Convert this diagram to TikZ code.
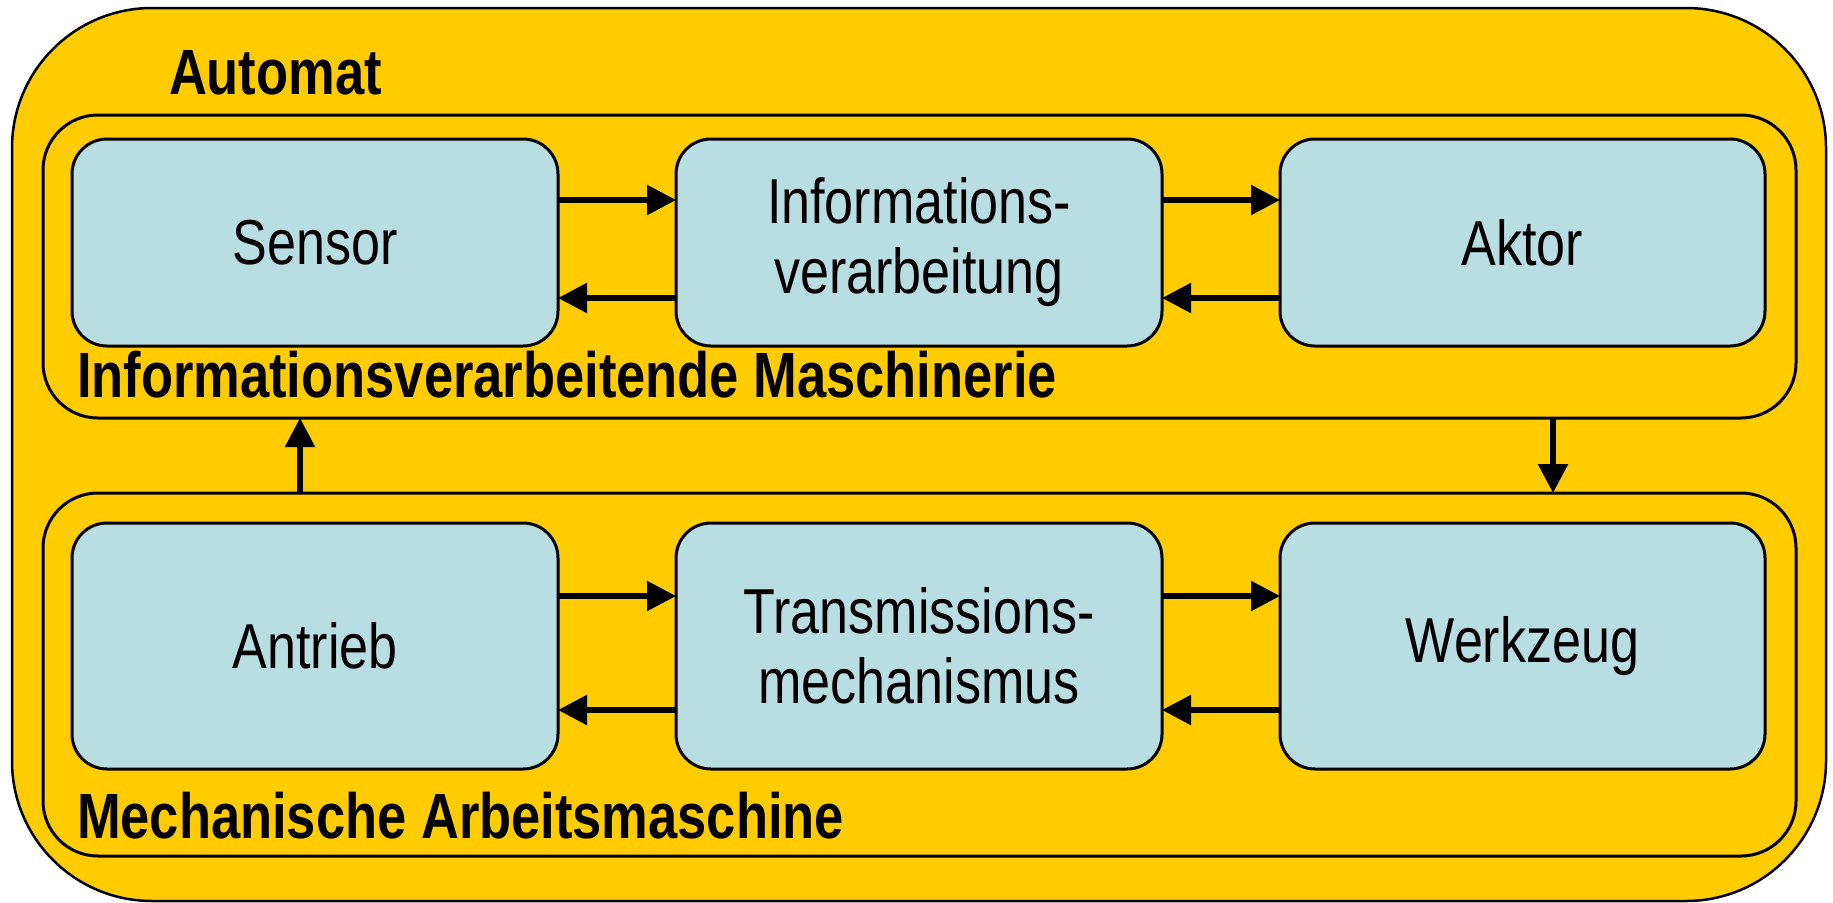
\documentclass[tikz,border=0pt]{standalone}
\usepackage{fontspec}
\setmainfont{Liberation Sans}[FakeStretch=0.82]
\usetikzlibrary{arrows.meta}
\definecolor{automatyellow}{HTML}{FFCC00}
\definecolor{unitblue}{HTML}{B8DEE2}
\begin{document}
\begin{tikzpicture}[x=1pt,y=-1pt,
  every node/.style={inner sep=0pt,outer sep=0pt},
  txt/.style={font=\fontsize{63.5}{70}\selectfont},
  frame/.style={draw=black,line width=2.5pt,rounded corners=140pt,fill=automatyellow},
  group/.style={draw=black,line width=3pt,rounded corners=55pt},
  unit/.style={draw=black,line width=3pt,rounded corners=35pt,fill=unitblue,
    txt,align=center},
  grouplabel/.style={txt,font=\fontsize{64}{70}\selectfont\bfseries,anchor=base west},
  flow/.style={line width=5.5pt,-{Triangle[length=29pt,width=29pt]}}]
\useasboundingbox (0,0) rectangle (1833,902);

% outer frame: the automaton
\node[frame,minimum width=1814pt,minimum height=893pt] (automat) at (919,454.5) {};
\node[grouplabel] (automatlabel) at (169,94) {Automat};

% information processing machinery
\node[group,minimum width=1753pt,minimum height=303pt] (info) at (919.5,266.5) {};
\node[unit,minimum width=486pt,minimum height=207pt] (sensor) at (315,242.5) {Sensor};
\node[unit,minimum width=486pt,minimum height=207pt] (verarb) at (919,242.5) {Informations-\\verarbeitung};
\node[unit,minimum width=485pt,minimum height=207pt] (aktor) at (1522.5,242.5) {Aktor};
\node[grouplabel] (infolabel) at (77,397) {Informationsverarbeitende Maschinerie};

% mechanical working machine
\node[group,minimum width=1753pt,minimum height=363pt] (mech) at (919.5,674.5) {};
\node[unit,minimum width=486pt,minimum height=246pt] (antrieb) at (315,646) {Antrieb};
\node[unit,minimum width=486pt,minimum height=246pt] (trans) at (919,646) {Transmissions-\\mechanismus};
\node[unit,minimum width=485pt,minimum height=246pt] (werkzeug) at (1522.5,646) {Werkzeug};
\node[grouplabel] (mechlabel) at (77,838) {Mechanische Arbeitsmaschine};

% signal and power flow
\draw[flow] ([yshift=42.5pt]sensor.east) -- ([yshift=42.5pt]verarb.west);
\draw[flow] ([yshift=-55.5pt]verarb.west) -- ([yshift=-55.5pt]sensor.east);
\draw[flow] ([yshift=42.5pt]verarb.east) -- ([yshift=42.5pt]aktor.west);
\draw[flow] ([yshift=-55.5pt]aktor.west) -- ([yshift=-55.5pt]verarb.east);

\draw[flow] ([yshift=50pt]antrieb.east) -- ([yshift=50pt]trans.west);
\draw[flow] ([yshift=-64pt]trans.west) -- ([yshift=-64pt]antrieb.east);
\draw[flow] ([yshift=50pt]trans.east) -- ([yshift=50pt]werkzeug.west);
\draw[flow] ([yshift=-64pt]werkzeug.west) -- ([yshift=-64pt]trans.east);

\coordinate (upx) at (300,0);
\coordinate (downx) at (1553,0);
\draw[flow] (mech.north -| upx) -- (info.south -| upx);
\draw[flow] (info.south -| downx) -- (mech.north -| downx);
\end{tikzpicture}
\end{document}
